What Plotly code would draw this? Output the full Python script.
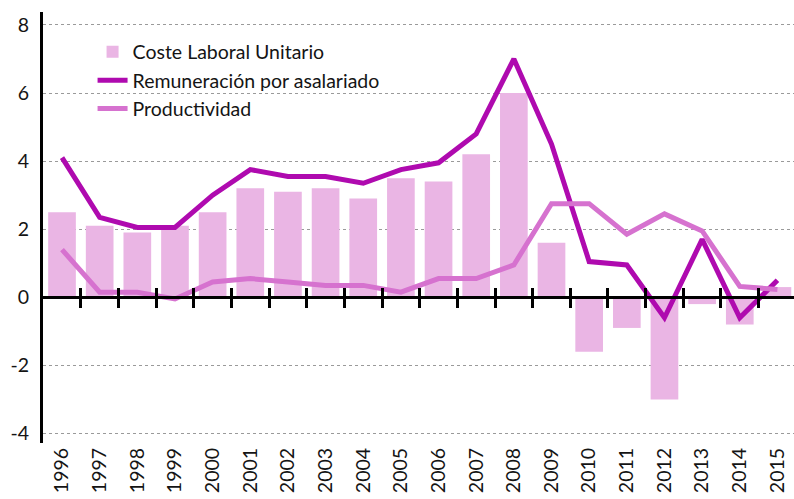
import plotly.graph_objects as go

years = list(range(1996, 2016))
year_labels = [str(y) for y in years]
clu = [2.5, 2.1, 1.9, 2.1, 2.5, 3.2, 3.1, 3.2, 2.9, 3.5, 3.4, 4.2, 6.0, 1.6, -1.6, -0.9, -3.0, -0.2, -0.8, 0.3]
remuneracion = [4.1, 2.35, 2.05, 2.05, 3.0, 3.75, 3.55, 3.55, 3.35, 3.75, 3.95, 4.8, 7.0, 4.5, 1.05, 0.95, -0.6, 1.7, -0.6, 0.5]
productividad = [1.4, 0.15, 0.15, -0.05, 0.45, 0.55, 0.45, 0.35, 0.35, 0.15, 0.55, 0.55, 0.95, 2.75, 2.75, 1.85, 2.45, 1.95, 0.32, 0.23]
y_ticks = [-4, -2, 0, 2, 4, 6, 8]
y_tick_labels = ["-4", "-2", "0", "2", "4", "6", "8"]

names = ["Coste Laboral Unitario", "Remuneración por asalariado", "Productividad"]
FONT = "Lato"
FS = 19.5
TXT = "#141414"

y_min, y_max = -4.28, 8.38
x_min, x_max = years[0] - 0.505, years[-1] + 0.44
zero_pos = (0 - y_min) / (y_max - y_min)
boundaries = [y + 0.5 for y in years[:-1]]

fig = go.Figure()
fig.add_trace(go.Bar(x=years, y=clu, name=names[0], marker=dict(color="#EAB5E4", line=dict(width=0)),
                     legendgroup="a"))
fig.add_trace(go.Scatter(x=years, y=remuneracion, name=names[1], mode="lines",
                         line=dict(color="#AF0AAF", width=5), legendgroup="b"))
fig.add_trace(go.Scatter(x=years, y=productividad, name=names[2], mode="lines",
                         line=dict(color="#D672CF", width=5), legendgroup="c"))

fig.update_layout(
    width=794, height=499,
    margin=dict(l=43, r=0, t=12, b=56),
    plot_bgcolor="white", paper_bgcolor="white",
    font=dict(family=FONT, size=FS, color=TXT),
    bargap=0.265,
    showlegend=True,
    legend=dict(x=0.066, y=0.952, xanchor="left", yanchor="top", bgcolor="rgba(0,0,0,0)",
                font=dict(size=FS, color=TXT), tracegroupgap=2, traceorder="normal"),
    xaxis=dict(range=[x_min, x_max], tickmode="array", tickvals=years, ticktext=year_labels,
               tickangle=-90, showgrid=False, showline=False, ticks="", zeroline=False,
               automargin=False, tickfont=dict(size=FS, color=TXT)),
    xaxis2=dict(overlaying="x", anchor="free", position=zero_pos, matches="x", range=[x_min, x_max],
                tickmode="array", tickvals=boundaries, showticklabels=False, ticks="outside",
                ticklen=9, tickwidth=2.5, tickcolor="black", showline=True, linecolor="black",
                linewidth=2.5, showgrid=False, zeroline=False, automargin=False),
    xaxis3=dict(overlaying="x", anchor="free", position=zero_pos, matches="x", range=[x_min, x_max],
                tickmode="array", tickvals=boundaries, showticklabels=False, ticks="inside",
                ticklen=9, tickwidth=2.5, tickcolor="black", showline=False,
                showgrid=False, zeroline=False, automargin=False),
    yaxis=dict(range=[y_min, y_max], tickmode="array", tickvals=y_ticks, ticktext=y_tick_labels,
               showgrid=True, gridcolor="#9a9a9a", griddash="dot", gridwidth=1,
               zeroline=False, showline=True, linecolor="black", linewidth=3,
               ticks="", ticklabelstandoff=7, automargin=False, tickfont=dict(size=FS, color=TXT)),
)
# invisible traces to activate overlay axes
fig.add_trace(go.Scatter(x=[years[0]], y=[0], xaxis="x2", mode="markers", marker=dict(opacity=0),
                         showlegend=False, hoverinfo="skip"))
fig.add_trace(go.Scatter(x=[years[0]], y=[0], xaxis="x3", mode="markers", marker=dict(opacity=0),
                         showlegend=False, hoverinfo="skip"))

fig.write_html("out.html", config={"displayModeBar": False},
               post_script="document.body.style.margin='0';document.body.style.overflow='hidden';")
